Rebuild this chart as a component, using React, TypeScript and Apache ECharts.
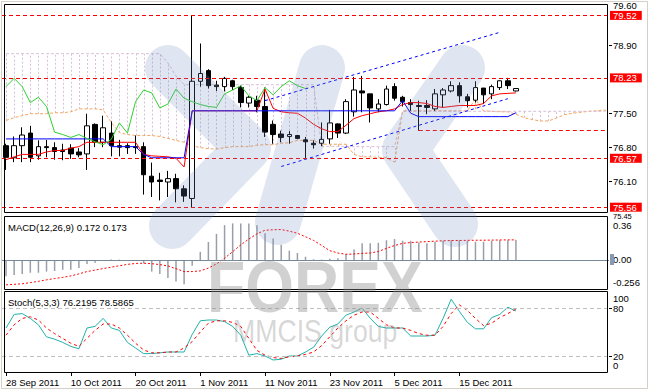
import React, { useEffect, useRef } from "react";
import * as echarts from "echarts";

const FONT = "Liberation Sans";

// ---- categories (trading days) ----
const dates = [
  "28 Sep 2011", "29 Sep 2011", "30 Sep 2011", "3 Oct 2011", "4 Oct 2011", "5 Oct 2011", "6 Oct 2011", "7 Oct 2011",
  "10 Oct 2011", "11 Oct 2011", "12 Oct 2011", "13 Oct 2011", "14 Oct 2011", "17 Oct 2011", "18 Oct 2011", "19 Oct 2011",
  "20 Oct 2011", "21 Oct 2011", "24 Oct 2011", "25 Oct 2011", "26 Oct 2011", "27 Oct 2011", "28 Oct 2011", "31 Oct 2011",
  "1 Nov 2011", "2 Nov 2011", "3 Nov 2011", "4 Nov 2011", "7 Nov 2011", "8 Nov 2011", "9 Nov 2011", "10 Nov 2011",
  "11 Nov 2011", "14 Nov 2011", "15 Nov 2011", "16 Nov 2011", "17 Nov 2011", "18 Nov 2011", "21 Nov 2011", "22 Nov 2011",
  "23 Nov 2011", "24 Nov 2011", "25 Nov 2011", "28 Nov 2011", "29 Nov 2011", "30 Nov 2011", "1 Dec 2011", "2 Dec 2011",
  "5 Dec 2011", "6 Dec 2011", "7 Dec 2011", "8 Dec 2011", "9 Dec 2011", "12 Dec 2011", "13 Dec 2011", "14 Dec 2011",
  "15 Dec 2011", "16 Dec 2011", "19 Dec 2011", "20 Dec 2011", "21 Dec 2011", "22 Dec 2011", "23 Dec 2011", "26 Dec 2011",
];
const futureDates = [
  "27 Dec 2011", "28 Dec 2011", "29 Dec 2011", "30 Dec 2011", "2 Jan 2012", "3 Jan 2012",
  "4 Jan 2012", "5 Jan 2012", "6 Jan 2012", "9 Jan 2012", "10 Jan 2012",
];

// ---- USDJPY daily candles ----
const opens = [
  76.83, 76.58, 76.83, 77.09, 76.62, 76.81, 76.79, 76.74, 76.78, 76.70,
  76.66, 77.27, 76.90, 77.09, 76.83, 76.83, 76.81, 76.81, 76.20, 76.12,
  76.08, 76.15, 75.94, 75.74, 78.16, 78.38, 78.08, 78.05, 78.17, 78.03,
  77.71, 77.77, 77.64, 77.27, 77.07, 77.02, 77.04, 76.95, 76.88, 76.88,
  76.97, 77.28, 77.09, 77.53, 77.96, 77.90, 77.59, 77.68, 78.05, 77.83,
  77.72, 77.66, 77.66, 77.59, 77.88, 77.96, 78.07, 77.84, 77.77, 78.02,
  77.90, 78.03, 78.17, 77.96,
];
const closes = [
  76.59, 76.83, 77.05, 76.59, 76.81, 76.79, 76.71, 76.71, 76.66, 76.64,
  77.24, 76.90, 77.20, 76.83, 76.80, 76.79, 76.79, 76.23, 76.08, 76.09,
  76.15, 75.94, 75.79, 78.16, 78.32, 78.07, 78.05, 78.22, 78.05, 77.72,
  77.83, 77.64, 77.11, 77.06, 77.00, 77.06, 76.98, 76.91, 76.85, 76.96,
  77.30, 77.09, 77.74, 77.98, 77.92, 77.61, 77.69, 78.00, 77.81, 77.74,
  77.68, 77.64, 77.62, 77.90, 77.98, 78.07, 77.86, 77.76, 78.03, 77.88,
  78.05, 78.17, 78.07, 78.01,
];
const highs = [
  76.87, 77.02, 77.21, 77.24, 76.94, 76.95, 76.90, 76.87, 76.86, 76.78,
  77.49, 77.29, 77.45, 77.33, 76.95, 76.88, 77.04, 76.90, 76.48, 76.27,
  76.31, 76.25, 76.01, 79.52, 78.94, 78.41, 78.17, 78.25, 78.19, 78.07,
  77.86, 77.86, 78.03, 77.35, 77.14, 77.13, 77.04, 77.01, 76.94, 77.31,
  77.57, 77.29, 77.79, 78.25, 78.27, 77.90, 77.79, 78.07, 78.12, 77.86,
  77.79, 77.76, 77.77, 78.00, 78.02, 78.16, 78.14, 77.90, 78.16, 78.02,
  78.09, 78.18, 78.23, 78.02,
];
const lows = [
  76.33, 76.49, 76.49, 76.49, 76.54, 76.59, 76.54, 76.53, 76.56, 76.59,
  76.33, 76.80, 76.80, 76.61, 76.61, 76.66, 76.66, 75.82, 75.77, 75.70,
  75.77, 75.66, 75.67, 75.56, 78.05, 78.01, 77.96, 77.95, 77.98, 77.62,
  77.62, 77.52, 77.01, 76.87, 76.90, 76.87, 76.97, 76.56, 76.77, 76.82,
  76.87, 76.99, 77.07, 77.43, 77.52, 77.31, 77.52, 77.66, 77.76, 77.64,
  77.55, 77.14, 77.48, 77.55, 77.61, 77.93, 77.72, 77.62, 77.72, 77.69,
  77.79, 77.98, 78.00, 77.95,
];

// ---- Ichimoku ----
const tenkan = [
  76.54, 76.60, 76.65, 76.65, 76.65, 76.70, 76.73, 76.73, 76.78, 76.81,
  76.90, 76.90, 76.90, 76.90, 76.90, 76.90, 76.90, 76.65, 76.62, 76.61,
  76.60, 76.57, 76.39, 77.55, 77.55, 77.55, 77.55, 77.55, 77.55, 77.55,
  77.55, 77.55, 78.00, 77.60, 77.53, 77.51, 77.50, 77.40, 77.27, 77.18,
  77.12, 77.12, 77.25, 77.39, 77.45, 77.49, 77.53, 77.55, 77.59, 77.68,
  77.72, 77.72, 77.70, 77.64, 77.62, 77.64, 77.66, 77.66, 77.66, 77.70,
  77.86, 77.90, 77.91, 77.92,
];
const kijun = [
  76.97, 76.97, 76.97, 76.97, 76.97, 76.97, 76.97, 76.97, 76.97, 76.97,
  76.97, 76.97, 76.97, 76.81, 76.81, 76.81, 76.81, 76.65, 76.58, 76.58,
  76.58, 76.58, 76.58, 77.55, 77.55, 77.55, 77.55, 77.55, 77.55, 77.55,
  77.55, 77.55, 77.55, 77.55, 77.55, 77.55, 77.55, 77.55, 77.55, 77.55,
  77.55, 77.55, 77.55, 77.55, 77.55, 77.55, 77.55, 77.55, 77.55, 77.76,
  77.50, 77.43, 77.43, 77.43, 77.43, 77.43, 77.43, 77.43, 77.43, 77.43,
  77.43, 77.43, 77.43, 77.51,
];
const chikou = [
  78.05, 78.22, 78.05, 77.72, 77.83, 77.64, 77.11, 77.06, 77.00, 77.06,
  76.98, 76.91, 76.85, 76.96, 77.30, 77.09, 77.74, 77.98, 77.92, 77.61,
  77.69, 78.00, 77.81, 77.74, 77.68, 77.64, 77.62, 77.90, 77.98, 78.07,
  77.86, 77.76, 78.03, 77.88, 78.05, 78.17, 78.07, 78.01,
];
const spanA = [
  77.35, 77.41, 77.45, 77.49, 77.49, 77.49, 77.51, 77.51, 77.53, 77.59,
  77.59, 77.59, 77.57, 77.31, 77.10, 77.06, 77.04, 77.04, 77.04, 77.02,
  76.98, 76.94, 76.90, 76.83, 76.79, 76.77, 76.76, 76.79, 76.81, 76.81,
  76.81, 76.84, 76.85, 76.85, 76.88, 76.89, 76.94, 76.94, 76.94, 76.86,
  76.86, 76.86, 76.86, 76.65, 76.60, 76.60, 76.59, 76.58, 76.49, 77.55,
  77.55, 77.55, 77.55, 77.55, 77.55, 77.55, 77.55, 77.55, 77.79, 77.55,
  77.54, 77.53, 77.53, 77.48, 77.41, 77.37, 77.34, 77.34, 77.40, 77.47,
  77.50, 77.52, 77.54, 77.55, 77.57,
];
const spanB = [
  78.73, 78.73, 78.73, 78.73, 78.73, 78.73, 78.73, 78.73, 78.73, 78.73,
  78.73, 78.73, 78.73, 78.73, 78.73, 78.73, 78.73, 78.73, 78.73, 78.73,
  78.54, 78.27, 78.09, 78.09, 78.09, 78.09, 78.09, 78.09, 78.09, 78.09,
  78.09, 78.09, 78.09, 78.09, 78.09, 78.09, 78.09, 78.09, 78.09, 76.81,
  76.81, 76.81, 76.81, 76.81, 76.81, 76.81, 76.81, 76.81, 76.81, 77.54,
  77.54, 77.54, 77.54, 77.54, 77.54, 77.54, 77.54, 77.54, 77.54, 77.54,
  77.54, 77.54, 77.54, 77.54, 77.54, 77.54, 77.54, 77.54, 77.54, 77.54,
  77.54, 77.54, 77.54, 77.54, 77.54,
];

// ---- annotations ----
const priceLevels = [79.52, 78.23, 76.57, 75.56];
const supportStart = 51;
const supportLevel = 77.14;
const channelUpper = [[32, 77.76], [61, 79.17]];
const channelLower = [[34, 76.4], [62, 77.8]];

// ---- MACD(12,26,9) ----
const macd = [
  -0.14, -0.13, -0.12, -0.11, -0.11, -0.1, -0.095, -0.085, -0.085, -0.07,
  -0.035, -0.025, -0.008, 0.004, 0.003, -0.002, -0.005, -0.03, -0.1, -0.12,
  -0.155, -0.185, -0.21, -0.05, 0.07, 0.155, 0.225, 0.3, 0.315, 0.315,
  0.315, 0.3, 0.23, 0.185, 0.13, 0.08, 0.06, 0.028, 0.006, 0.003,
  0.01, 0.015, 0.05, 0.09, 0.143, 0.143, 0.148, 0.17, 0.18, 0.165,
  0.165, 0.15, 0.143, 0.157, 0.165, 0.17, 0.17, 0.165, 0.157, 0.157,
  0.165, 0.17, 0.17, 0.172,
];
const macdSignal = [
  -0.214, -0.21, -0.205, -0.195, -0.184, -0.171, -0.16, -0.15, -0.137, -0.12,
  -0.1, -0.087, -0.074, -0.062, -0.05, -0.038, -0.03, -0.028, -0.032, -0.04,
  -0.051, -0.075, -0.1, -0.1, -0.094, -0.07, -0.034, 0.015, 0.071, 0.13,
  0.18, 0.225, 0.256, 0.26, 0.262, 0.248, 0.23, 0.2, 0.168, 0.125,
  0.08, 0.06, 0.049, 0.051, 0.057, 0.06, 0.073, 0.1, 0.124, 0.143,
  0.15, 0.154, 0.158, 0.162, 0.165, 0.167, 0.168, 0.169, 0.17, 0.17,
  0.171, 0.172, 0.173, 0.173,
];

// ---- Stochastic(5,3,3) ----
const stochMain = [
  55, 72, 73, 67, 59, 44, 41, 37, 32, 29,
  55, 57, 67, 55, 52, 37, 30, 23, 23, 24,
  25, 25, 25, 47, 64, 65, 65, 63, 57, 46,
  21, 23, 20, 15, 16, 20, 20, 25, 31, 45,
  56, 60, 71, 75, 80, 67, 57, 55, 55, 55,
  45, 45, 45, 46, 67, 91, 76, 62, 54, 54,
  68, 72, 81, 76.22,
];
const stochSignal = [
  46, 59, 67, 69, 65, 55, 48, 42, 36, 32,
  42, 52, 60, 60, 55, 46, 36, 27.5, 24, 24,
  25, 25, 30, 38, 50, 61, 64, 64, 62, 57,
  42, 27, 21, 18, 17, 19, 20, 22, 25, 33,
  44, 55, 64, 71, 75, 75, 67, 59, 55, 55,
  52, 48, 46, 46, 57, 73, 84, 77, 67, 58,
  61, 68, 73, 78.59,
];

// ---- axis tick labels (edge labels sit just inside their window, as in MT4) ----
const priceTop = { value: 79.735, text: "79.60" };
const priceBottomText = "75.45";
const priceTicks = [78.9, 77.5, 76.8, 76.1];
const macdLabels = [
  { at: 0.301, text: "0.36" },
  { at: 0, text: "0.00" },
  { at: -0.198, text: "-0.256" },
];
const stochLevels = [80, 20];
const stochEdgeLabels = [
  { y: 298.5, text: "100" },
  { y: 365.5, text: "0" },
];

export default function App() {
  const ref = useRef<HTMLDivElement>(null);

  useEffect(() => {
    if (!ref.current) return;
    const chart = echarts.init(ref.current, undefined, { renderer: "svg" });
    const categories = dates.concat(futureDates);
    const lastBar = dates.length;
    const showX = (i: number) => i % 8 === 0 && i < lastBar;
    const candleData = opens.map((o, i) => [o, closes[i], lows[i], highs[i]]);
    const lbl = { color: "#000", fontSize: 9.5, fontFamily: FONT };
    const textAt = (list: { at: number; text: string }[]) => (v: any) => {
      const n = Number(v);
      let best = list[0];
      list.forEach((d) => {
        if (Math.abs(d.at - n) < Math.abs(best.at - n)) best = d;
      });
      return best.text;
    };

    const xAxisFor = (gi: number, show: boolean) => ({
      type: "category",
      gridIndex: gi,
      data: categories,
      boundaryGap: true,
      axisLine: { show: false },
      splitLine: { show: false },
      axisTick: show
        ? { show: true, interval: (i: number) => showX(i), alignWithLabel: true, length: 4, lineStyle: { color: "#000" } }
        : { show: false },
      axisLabel: show
        ? { show: true, interval: (i: number) => showX(i), align: "left", margin: 5, ...lbl }
        : { show: false },
    });

    const lineS = (data: any, color: string, type: any, extra: any = {}) => ({
      type: "line",
      data,
      symbol: "none",
      showSymbol: false,
      silent: true,
      lineStyle: { color, width: 1, type },
      z: 3,
      ...extra,
    });

    const option: any = {
      animation: false,
      backgroundColor: "#ffffff",
      textStyle: { fontFamily: FONT },
      grid: [
        { left: 2, width: 607, top: 4, height: 209 },
        { left: 2, width: 607, top: 217, height: 72 },
        { left: 2, width: 607, top: 292, height: 80 },
      ],
      xAxis: [xAxisFor(0, false), xAxisFor(1, false), xAxisFor(2, true)],
      yAxis: [
        {
          type: "value", gridIndex: 0, position: "right", min: 75.44, max: 79.735,
          splitLine: { show: false }, axisLine: { show: false },
          axisTick: { show: true, length: 3, customValues: priceTicks, lineStyle: { color: "#000" } },
          axisLabel: {
            customValues: [priceTop.value, ...priceTicks],
            showMinLabel: true, showMaxLabel: true,
            margin: 4, ...lbl,
            formatter: (v: any) => {
              const n = Number(v);
              return n > 79.7 ? priceTop.text : n.toFixed(2);
            },
          },
        },
        {
          type: "value", gridIndex: 1, position: "right", min: -0.25, max: 0.37,
          splitLine: { show: false }, axisLine: { show: false },
          axisTick: { show: false },
          axisLabel: {
            customValues: macdLabels.map((d) => d.at),
            showMinLabel: true, showMaxLabel: true,
            margin: 4, ...lbl,
            formatter: textAt(macdLabels),
          },
        },
        {
          type: "value", gridIndex: 2, position: "right", min: 0, max: 100,
          splitLine: { show: false }, axisLine: { show: false },
          axisTick: { show: true, length: 3, customValues: stochLevels, lineStyle: { color: "#000" } },
          axisLabel: {
            customValues: stochLevels,
            showMinLabel: true, showMaxLabel: true,
            margin: 4, ...lbl,
            formatter: (v: any) => String(Number(v)),
          },
        },
      ],
      series: [
        {
          type: "custom",
          xAxisIndex: 0, yAxisIndex: 0,
          data: spanA.map((a, i) => [i, a, spanB[i]]),
          encode: { x: 0, y: [1, 2] },
          silent: true,
          z: 1,
          renderItem: (params: any, api: any) => {
            const i = api.value(0);
            const a = api.value(1);
            const b = api.value(2);
            const pa = api.coord([i, a]);
            const pb = api.coord([i, b]);
            const x = Math.round(pa[0]) + 0.5;
            return {
              type: "line",
              shape: { x1: x, y1: pa[1], x2: x, y2: pb[1] },
              style: { stroke: b > a ? "#d8bfd8" : "#f4a460", lineWidth: 1, lineDash: [2, 2] },
              silent: true,
            };
          },
        },
        lineS(spanA, "#f4a460", [3, 2], { z: 1 }),
        lineS(spanB, "#d8bfd8", [3, 2], { z: 1 }),
        {
          type: "candlestick",
          xAxisIndex: 0, yAxisIndex: 0,
          data: candleData,
          barWidth: 5,
          silent: true,
          z: 2,
          itemStyle: { color: "#ffffff", color0: "#000000", borderColor: "#000000", borderColor0: "#000000", borderWidth: 1 },
          markLine: {
            silent: true,
            symbol: ["none", "none"],
            lineStyle: { color: "#ff0000", width: 1, type: [4, 3] },
            label: {
              show: true, position: "end", distance: 1,
              formatter: (p: any) => Number(p.value).toFixed(2),
              backgroundColor: "#ff0000", color: "#ffffff", fontSize: 9.5, fontFamily: FONT,
              padding: [0, 5, 0, 3], lineHeight: 9,
            },
            data: [
              ...priceLevels.map((v) => ({ yAxis: v })),
              [
                { coord: [supportStart, supportLevel], label: { show: false } },
                { coord: [categories.length - 1, supportLevel] },
              ],
            ],
          },
        },
        lineS(tenkan, "#ff0000", "solid"),
        lineS(kijun, "#0000ff", "solid"),
        lineS(chikou, "#30d030", "solid"),
        lineS(channelUpper, "#0000ff", [3, 3]),
        lineS(channelLower, "#0000ff", [3, 3]),
        {
          type: "bar",
          xAxisIndex: 1, yAxisIndex: 1,
          data: macd,
          barWidth: 1.5,
          silent: true,
          itemStyle: { color: "#9a9eaa" },
          markLine: {
            silent: true,
            symbol: ["none", "none"],
            label: { show: false },
            lineStyle: { color: "#778899", width: 1, type: "solid" },
            data: [{ yAxis: 0 }],
          },
        },
        lineS(macdSignal, "#ff0000", [2, 2], { xAxisIndex: 1, yAxisIndex: 1 }),
        lineS(stochMain, "#20b2aa", "solid", {
          xAxisIndex: 2, yAxisIndex: 2,
          markLine: {
            silent: true,
            symbol: ["none", "none"],
            label: { show: false },
            lineStyle: { color: "#c0c0c0", width: 1, type: [4, 3] },
            data: stochLevels.map((v) => ({ yAxis: v })),
          },
        }),
        lineS(stochSignal, "#ff0000", [3, 3], { xAxisIndex: 2, yAxisIndex: 2 }),
      ],
      graphic: [
        // watermark logo (semi-transparent bands)
        {
          type: "polyline", silent: true, z: 100,
          shape: { points: [[168, 68], [248, 148], [172, 226]] },
          style: { fill: "none", stroke: "#6f8fbf", lineWidth: 46, lineCap: "round", lineJoin: "round", opacity: 0.22 },
        },
        {
          type: "polyline", silent: true, z: 100,
          shape: { points: [[322, 68], [278, 222]] },
          style: { fill: "none", stroke: "#6f8fbf", lineWidth: 46, lineCap: "round", lineJoin: "round", opacity: 0.22 },
        },
        {
          type: "polyline", silent: true, z: 100,
          shape: { points: [[462, 68], [405, 150], [455, 224]] },
          style: { fill: "none", stroke: "#6f8fbf", lineWidth: 46, lineCap: "round", lineJoin: "round", opacity: 0.22 },
        },
        {
          type: "text", silent: true, z: 101, x: 207, y: 287, scaleX: 0.87,
          style: { text: "FOREX", fontSize: 72, fontWeight: "bold", fontFamily: FONT, fill: "#8c8c8c", opacity: 0.4, verticalAlign: "middle" },
        },
        {
          type: "text", silent: true, z: 101, x: 233, y: 331, scaleX: 0.86,
          style: { text: "MMCIS group", fontSize: 31, fontFamily: FONT, fill: "#8c8c8c", opacity: 0.35, verticalAlign: "middle" },
        },
        // panel frames
        {
          type: "rect", silent: true, z: 50,
          shape: { x: 4.5, y: 4.5, width: 603, height: 208 },
          style: { fill: "none", stroke: "#000", lineWidth: 1 },
        },
        {
          type: "rect", silent: true, z: 50,
          shape: { x: 4.5, y: 216.5, width: 603, height: 73 },
          style: { fill: "none", stroke: "#000", lineWidth: 1 },
        },
        {
          type: "rect", silent: true, z: 50,
          shape: { x: 4.5, y: 291.5, width: 603, height: 81 },
          style: { fill: "none", stroke: "#000", lineWidth: 1 },
        },
        {
          type: "rect", silent: true, z: 50,
          shape: { x: 1.5, y: 1.5, width: 646, height: 387 },
          style: { fill: "none", stroke: "#d4d0c8", lineWidth: 1 },
        },
        {
          type: "rect", silent: true, z: 60,
          shape: { x: 610, y: 254, width: 4, height: 11 },
          style: { fill: "#8a9ab0" },
        },
        // edge labels kept inside their windows
        {
          type: "text", silent: true, z: 60, x: 613, y: 216.5,
          style: { text: priceBottomText, fontSize: 7.5, fontFamily: FONT, fill: "#000", verticalAlign: "middle" },
        },
        ...stochEdgeLabels.map((d) => ({
          type: "text", silent: true, z: 60, x: 613, y: d.y,
          style: { text: d.text, fontSize: 9.5, fontFamily: FONT, fill: "#000", verticalAlign: "middle" },
        })),
        // indicator legends
        {
          type: "text", silent: true, z: 60, x: 8, y: 227,
          style: { text: "MACD(12,26,9) 0.172 0.173", fontSize: 9.5, fontFamily: FONT, fill: "#000", verticalAlign: "middle" },
        },
        {
          type: "text", silent: true, z: 60, x: 8, y: 302,
          style: { text: "Stoch(5,3,3) 76.2195 78.5865", fontSize: 9.5, fontFamily: FONT, fill: "#000", verticalAlign: "middle" },
        },
      ],
    };

    chart.setOption(option);
    return () => chart.dispose();
  }, []);

  return (
    <div
      ref={ref}
      style={{ position: "fixed", left: 0, top: 0, width: 650, height: 392, background: "#fff" }}
    />
  );
}
